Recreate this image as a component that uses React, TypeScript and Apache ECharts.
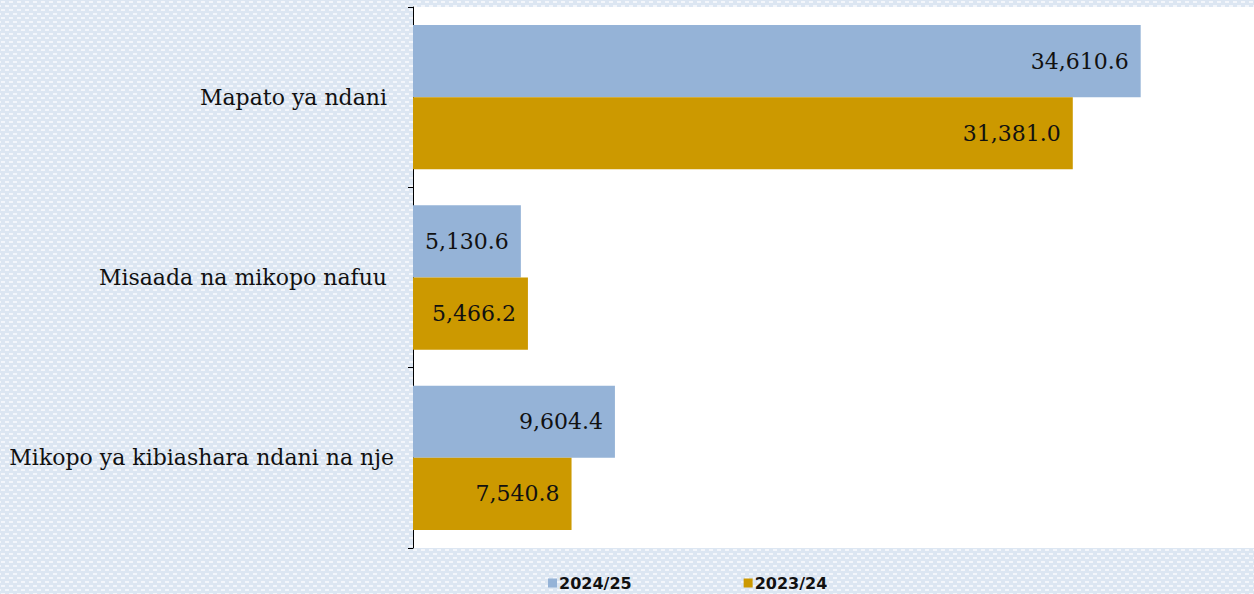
import React, { useEffect, useRef, useMemo } from "react";
import * as echarts from "echarts";

const categories = ["Mapato ya ndani ", "Misaada na mikopo nafuu ", "Mikopo ya kibiashara ndani na nje"];
const series2024 = [34610.6, 5130.6, 9604.4];
const series2023 = [31381.0, 5466.2, 7540.8];
const seriesNames = ["2024/25", "2023/24"];
const seriesColors = ["#95B3D7", "#CC9900"];

function makePattern(): string {
  const c = document.createElement("canvas");
  c.width = 8;
  c.height = 8;
  const ctx = c.getContext("2d")!;
  ctx.fillStyle = "#dce6f2";
  ctx.fillRect(0, 0, 8, 8);
  ctx.fillStyle = "#f3f6fb";
  ctx.fillRect(1, 1, 4, 2);
  ctx.fillRect(5, 5, 3, 2);
  ctx.fillRect(0, 5, 1, 2);
  return c.toDataURL();
}

const fmt = (v: number) =>
  v.toLocaleString("en-US", { minimumFractionDigits: 1, maximumFractionDigits: 1 });

export default function App() {
  const ref = useRef<HTMLDivElement>(null);
  const bg = useMemo(() => makePattern(), []);

  useEffect(() => {
    if (!ref.current) return;
    const chart = echarts.init(ref.current, null, { renderer: "svg" });
    const label = {
      show: true,
      position: "insideRight" as const,
      distance: 12,
      formatter: (p: any) => fmt(p.value),
      fontFamily: "DejaVu Serif",
      fontSize: 22,
      color: "#111",
    };
    chart.setOption({
      animation: false,
      backgroundColor: "transparent",
      grid: {
        left: 413,
        top: 7,
        width: 848,
        height: 541,
        show: true,
        backgroundColor: "#ffffff",
        borderWidth: 0,
      },
      legend: {
        bottom: -2,
        left: 543,
        itemWidth: 9,
        itemHeight: 9,
        itemGap: 112,
        icon: "rect",
        textStyle: {
          fontFamily: "DejaVu Sans",
          fontWeight: "bold",
          fontSize: 16,
          color: "#111",
          padding: [0, 0, 0, -3],
        },
        data: seriesNames,
      },
      xAxis: {
        type: "value",
        min: 0,
        max: 40000,
        show: false,
      },
      yAxis: {
        type: "category",
        inverse: true,
        data: categories,
        axisLine: { show: true, lineStyle: { color: "#000", width: 1 } },
        axisTick: { show: true, length: 5, lineStyle: { color: "#000" } },
        axisLabel: {
          margin: 19,
          fontFamily: "DejaVu Serif",
          fontSize: 22,
          color: "#111",
        },
        splitLine: { show: false },
      },
      series: [
        {
          name: seriesNames[0],
          type: "bar",
          data: series2024,
          itemStyle: { color: seriesColors[0] },
          barGap: "0%",
          barCategoryGap: "20%",
          label,
        },
        {
          name: seriesNames[1],
          type: "bar",
          data: series2023,
          itemStyle: { color: seriesColors[1] },
          barGap: "0%",
          barCategoryGap: "20%",
          label,
        },
      ],
    });
    return () => chart.dispose();
  }, []);

  return (
    <div
      style={{
        position: "fixed",
        left: 0,
        top: 0,
        width: 1254,
        height: 594,
        backgroundColor: "#dce6f2",
        backgroundImage: `url(${bg})`,
        backgroundRepeat: "repeat",
      }}
    >
      <div ref={ref} style={{ width: 1254, height: 594 }} />
    </div>
  );
}
